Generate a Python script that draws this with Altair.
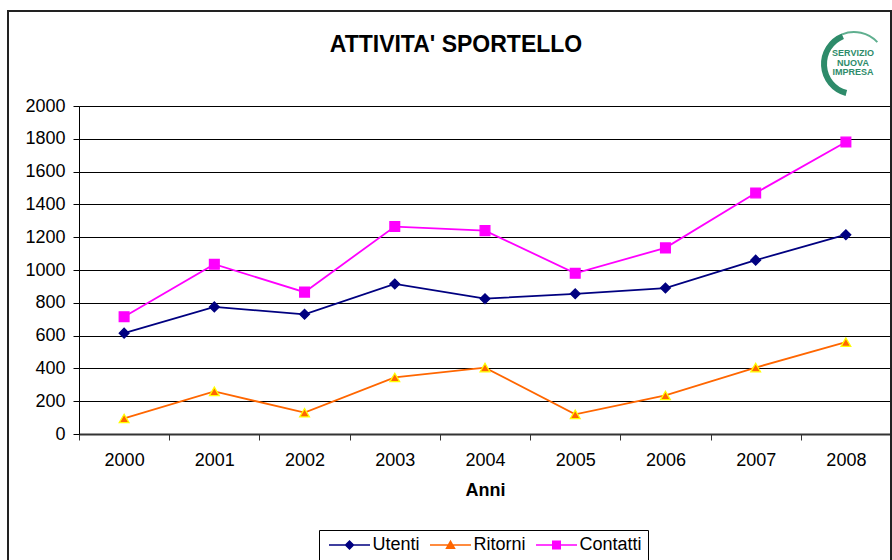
import altair as alt
import pandas as pd

# ---------------- data ----------------
years = ["2000", "2001", "2002", "2003", "2004", "2005", "2006", "2007", "2008"]
utenti = [615, 775, 730, 915, 825, 855, 890, 1060, 1215]
ritorni = [95, 260, 130, 345, 405, 120, 235, 405, 560]
contatti = [715, 1035, 865, 1265, 1240, 980, 1135, 1470, 1780]
series_names = ["Utenti", "Ritorni", "Contatti"]
y_ticks = [0, 200, 400, 600, 800, 1000, 1200, 1400, 1600, 1800, 2000]
chart_title = ["ATTIVITA' SPORTELLO"]
logo_lines = ["SERVIZIO", "NUOVA", "IMPRESA"]

# ---------------- styles ----------------
line_colors = ["#000080", "#FF6600", "#FF00FF"]
marker_fills = ["#000080", "#FF6600", "#FF00FF"]
marker_strokes = ["#000080", "#FFFF00", "#FF00FF"]
marker_shapes = ["diamond", "triangle-up", "square"]
LINE = "M-4.1,-0.16H4.1V0.16H-4.1Z "
legend_shapes = [
    LINE + "M0,-1L1,0L0,1L-1,0Z",
    LINE + "M0,-1.05L1.05,0.8L-1.05,0.8Z",
    LINE + "M-0.9,-0.9H0.9V0.9H-0.9Z",
]
FONT = "Liberation Sans"

rows = []
for name, vals in zip(series_names, [utenti, ritorni, contatti]):
    for yr, v in zip(years, vals):
        rows.append({"Anno": yr, "Serie": name, "Valore": v})
df = pd.DataFrame(rows)

x_enc = alt.X(
    "Anno:N",
    sort=years,
    bandPosition=0.5,
    title="Anni",
    scale=alt.Scale(type="band", domain=years, paddingInner=0, paddingOuter=0),
    axis=alt.Axis(
        labelAngle=0, tickBand="extent", grid=False, tickSize=6,
        domainWidth=2, domainColor="#333333", tickColor="#333333",
        labelPadding=11, titlePadding=12,
    ),
)
y_enc = alt.Y(
    "Valore:Q",
    title=None,
    scale=alt.Scale(domain=[0, 2000], nice=False, zero=True),
    axis=alt.Axis(
        values=y_ticks, format="d", grid=True, gridColor="#000000", gridWidth=1,
        tickSize=6, labelPadding=8, domainColor="#000000", tickColor="#000000",
    ),
)

base = alt.Chart(df)

lines = base.mark_line(strokeWidth=1.8).encode(
    x=x_enc,
    y=y_enc,
    color=alt.Color("Serie:N", scale=alt.Scale(domain=series_names, range=line_colors), legend=None),
)

points = base.mark_point(filled=True, size=95, strokeWidth=1.3, opacity=1).encode(
    x=x_enc,
    y=y_enc,
    shape=alt.Shape("Serie:N", scale=alt.Scale(domain=series_names, range=marker_shapes), legend=None),
    fill=alt.Fill("Serie:N", scale=alt.Scale(domain=series_names, range=marker_fills), legend=None),
    stroke=alt.Stroke("Serie:N", scale=alt.Scale(domain=series_names, range=marker_strokes), legend=None),
)

legend_kw = dict(
    title=None, orient="none", legendX=240, legendY=424, direction="horizontal",
    labelFont=FONT, labelFontSize=18, labelColor="black",
    symbolSize=100, symbolOffset=15.5, labelOffset=14, columnPadding=6,
    padding=6, strokeColor="#000000", fillColor="#FFFFFF", cornerRadius=0,
    symbolStrokeWidth=0,
)

legend_layer = base.transform_calculate(Valore="datum.Valore - 5000").mark_point(
    filled=True, size=100, clip=True, opacity=1
).encode(
    x=x_enc,
    y=y_enc,
    color=alt.Color("Serie:N", scale=alt.Scale(domain=series_names, range=line_colors),
                    legend=alt.Legend(**legend_kw)),
    shape=alt.Shape("Serie:N", scale=alt.Scale(domain=series_names, range=legend_shapes),
                    legend=alt.Legend(**legend_kw)),
)

# decorations: outer frame, title and logo
one = pd.DataFrame({"k": [0]})
frame = alt.Chart(one).mark_rect(filled=False, stroke="#222222", strokeWidth=2).encode(
    x=alt.value(-71), x2=alt.value(812), y=alt.value(-95), y2=alt.value(470)
)
title_text = alt.Chart(pd.DataFrame({"t": chart_title})).mark_text(
    font=FONT, fontSize=23, fontWeight="bold", color="black", align="center", baseline="alphabetic"
).encode(text="t:N", x=alt.value(377), y=alt.value(-54))
logo_df = pd.DataFrame({"t": logo_lines, "dy": [-53, -43, -34]})
logo_text = alt.Chart(logo_df).mark_text(
    font=FONT, fontSize=9, fontWeight="bold", color="#2E8B6A", align="center", baseline="middle"
).encode(text="t:N", x=alt.value(774), y=alt.Y("dy:Q", scale=None))
arc_thick = alt.Chart(one).mark_arc(
    radius=33, radius2=27, theta=3.4, theta2=5.9, color="#2E8B6A"
).encode(x=alt.value(775), y=alt.value(-42))
arc_thin = alt.Chart(one).mark_arc(
    radius=33, radius2=31, theta=5.9, theta2=7.1, color="#5FAF8F"
).encode(x=alt.value(775), y=alt.value(-42))

chart = alt.layer(
    frame, title_text, arc_thick, arc_thin, logo_text, lines, points, legend_layer
).resolve_scale(
    shape="independent"
).resolve_legend(
    color="independent", shape="independent"
).properties(
    width=812,
    height=328,
    autosize=alt.AutoSizeParams(type="none"),
    padding={"left": 79, "top": 106, "right": 1, "bottom": 126},
).configure_view(
    stroke="#808080", strokeWidth=1
).configure_axis(
    labelFont=FONT, labelFontSize=18, labelColor="black",
    titleFont=FONT, titleFontSize=18, titleFontWeight="bold", titleColor="black",
)

chart.save("out.html", embed_options={"renderer": "svg", "actions": False})
